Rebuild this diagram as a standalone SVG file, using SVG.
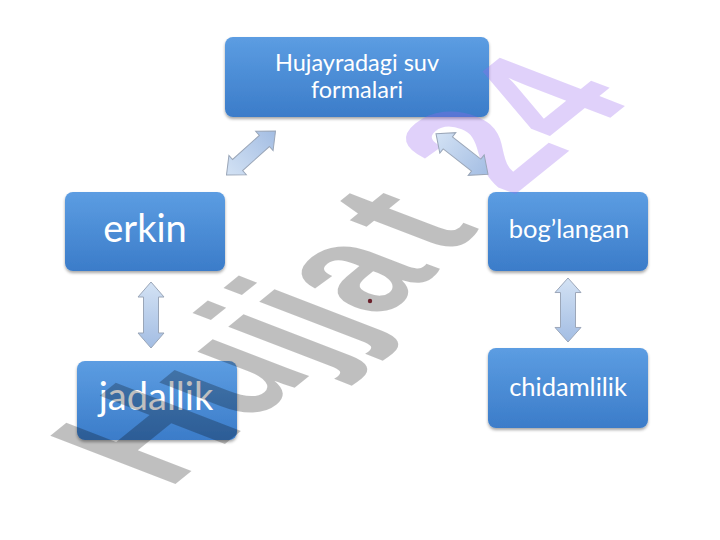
<svg xmlns="http://www.w3.org/2000/svg" width="720" height="540" viewBox="0 0 720 540">
<defs>
<linearGradient id="boxg" x1="0" y1="0" x2="0" y2="1">
<stop offset="0" stop-color="#5c9de2"/>
<stop offset="1" stop-color="#3b7cc9"/>
</linearGradient>
<linearGradient id="arrg" x1="0" y1="0" x2="1" y2="0">
<stop offset="0" stop-color="#d3e2f4"/>
<stop offset="1" stop-color="#a3bde3"/>
</linearGradient>
<filter id="sh" x="-10%" y="-10%" width="120%" height="130%">
<feDropShadow dx="0" dy="2" stdDeviation="1.5" flood-color="#000" flood-opacity="0.35"/>
</filter>
<path id="dbl" d="M -33,0 L -18,-13 L -18,-7.5 L 18,-7.5 L 18,-13 L 33,0 L 18,13 L 18,7.5 L -18,7.5 L -18,13 Z"/>
</defs>
<style>
.box{fill:url(#boxg);filter:url(#sh);}
.t{font-family:Lato,"Open Sans","Liberation Sans",sans-serif;fill:#ffffff;text-anchor:middle;}
.arr{fill:url(#arrg);stroke:#9aa6b8;stroke-width:1;}
.wm{font-family:"Liberation Sans",Arial,sans-serif;font-weight:bold;font-size:100px;}
</style>
<rect width="720" height="540" fill="#ffffff"/>
<g id="node-top">
<rect class="box" x="225" y="37" width="264" height="80" rx="8"/>
<text class="t" x="357" y="71" font-size="23.5">Hujayradagi suv</text>
<text class="t" x="357" y="98" font-size="23.5">formalari</text>
</g>
<g id="node-erkin">
<rect class="box" x="65" y="192" width="160" height="79" rx="8"/>
<text class="t" x="145" y="242" font-size="38">erkin</text>
</g>
<g id="node-boglangan">
<rect class="box" x="488" y="192" width="160" height="79" rx="8"/>
<text class="t" x="569" y="238" font-size="25.5">bog’langan</text>
</g>
<g id="node-jadallik">
<rect class="box" x="77" y="361" width="160" height="79" rx="8"/>
<text class="t" x="156" y="410" font-size="38">jadallik</text>
</g>
<g id="node-chidamlilik">
<rect class="box" x="488" y="348" width="160" height="80" rx="8"/>
<text class="t" x="568" y="396" font-size="25.5">chidamlilik</text>
</g>
<g id="watermark">
<text class="wm" transform="matrix(1.115 -0.9 1.82 0.7 168 490)" fill="#000" fill-opacity="0.25">Hujja<tspan dx="10" dy="-4">t</tspan><tspan dx="32" dy="-3" fill="#9966ee" fill-opacity="0.3">24</tspan></text>
<circle cx="370" cy="301" r="2.2" fill="#6a1f2a"/>
</g>
<g id="connectors">
<use href="#dbl" class="arr" transform="translate(251,153) rotate(-42)"/>
<use href="#dbl" class="arr" transform="translate(462,154) rotate(38)"/>
<use href="#dbl" class="arr" transform="translate(151,315) rotate(90)"/>
<use href="#dbl" class="arr" transform="translate(568,310) rotate(90) scale(0.97,1)"/>
</g>
</svg>
